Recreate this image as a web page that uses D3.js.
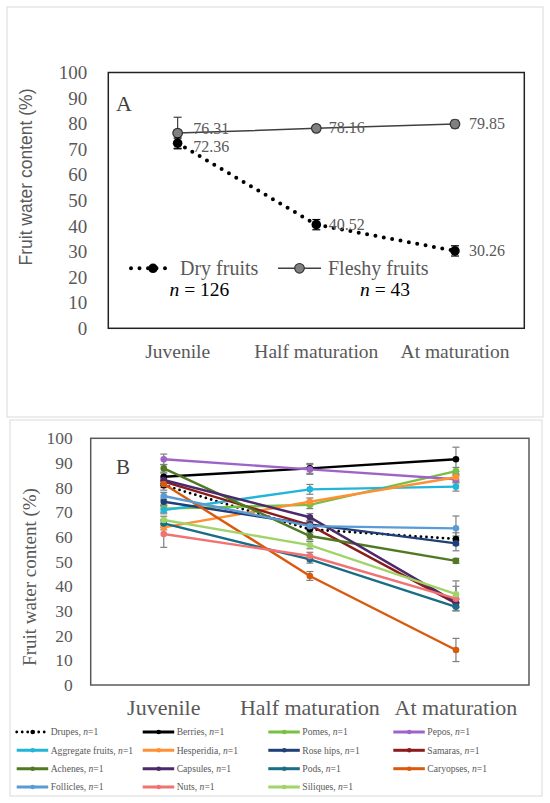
<!DOCTYPE html>
<html>
<head>
<meta charset="utf-8">
<script src="https://cdn.jsdelivr.net/npm/d3@7"></script>
<style>
  body { margin: 0; background: #fff; }
  svg { display: block; }
  svg text { font-family: "Liberation Serif", "Times New Roman", serif; }
  svg text.sans { font-family: "Liberation Sans", Arial, sans-serif; }
</style>
</head>
<body>
<div id="chart"></div>
<script>
const stages = ["Juvenile", "Half maturation", "At maturation"];
const yTicks = [0, 10, 20, 30, 40, 50, 60, 70, 80, 90, 100];

// panel A
const dryVals = [72.36, 40.52, 30.26];
const dryErr = [2, 2, 2];
const fleshyVals = [76.31, 78.16, 79.85];
const fleshyErr = [6.2, 1, 1.5];

// panel B
const typeNames = ["Drupes", "Berries", "Pomes", "Pepos",
  "Aggregate fruits", "Hesperidia", "Rose hips", "Samaras",
  "Achenes", "Capsules", "Pods", "Caryopses",
  "Follicles", "Nuts", "Siliques"];
const typeColors = ["#000000", "#000000", "#78c043", "#9e63c9",
  "#21b5d9", "#ff9036", "#1f3f76", "#8c1c1c",
  "#4f7a21", "#4a2a6a", "#196d87", "#d95a0c",
  "#5b9bd5", "#f07272", "#a1d468"];
const typeVals = [
  [81.0, 63.1, 59.2],
  [84.4, 87.8, 91.5],
  [71.5, 73.0, 86.7],
  [91.5, 87.4, 83.4],
  [70.9, 79.3, 80.4],
  [63.9, 74.3, 84.2],
  [74.3, 65.1, 57.4],
  [82.4, 64.8, 33.1],
  [87.8, 60.4, 50.3],
  [83.1, 68.0, 33.5],
  [65.5, 50.9, 31.7],
  [81.5, 44.2, 14.2],
  [76.6, 64.4, 63.5],
  [61.2, 52.3, 35.0],
  [66.9, 56.7, 36.8]
];
const typeErrs = [
  [2, 2, 2.5],
  [1.5, 2, 4.9],
  [1.5, 1.5, 1.5],
  [2.1, 2, 1.5],
  [1.5, 2, 1.8],
  [1, 1.5, 1.5],
  [1.5, 1.5, 3],
  [1.5, 1.5, 1.5],
  [1.5, 1.5, 1],
  [1.5, 1.5, 1.5],
  [1.5, 1.5, 1.5],
  [1.5, 1.8, 4.7],
  [1.5, 1.5, 5],
  [5.4, 1.5, 5],
  [1.5, 1.5, 5.4]
];

const GREY = "#595959";

let svg = d3.select("#chart").append("svg")
  .attr("width", 550)
  .attr("height", 803);

svg.append("rect").attr("width", 550).attr("height", 803).attr("fill", "#fff");

// outer frames
svg.append("rect").attr("x", 7).attr("y", 7).attr("width", 536).attr("height", 410)
  .attr("fill", "none").attr("stroke", "#d9d9d9");
svg.append("rect").attr("x", 10).attr("y", 420).attr("width", 532).attr("height", 376)
  .attr("fill", "none").attr("stroke", "#d9d9d9");

// ---------- Panel A ----------
let xA = d3.scaleBand().domain(stages).range([108.3, 524.3]);
let yA = d3.scaleLinear().domain([0, 100]).range([328.3, 72.5]);
let cxA = d => xA(d) + xA.bandwidth() / 2;

let gA = svg.append("g");

gA.append("g")
  .attr("transform", "translate(108.3,0)")
  .call(d3.axisLeft(yA).tickValues(yTicks).tickSize(0).tickPadding(21))
  .call(g => g.select(".domain").remove())
  .selectAll("text")
  .attr("font-size", 19).attr("fill", GREY);

gA.append("g")
  .attr("transform", "translate(0,328.3)")
  .call(d3.axisBottom(xA).tickSize(0).tickPadding(16))
  .call(g => g.select(".domain").remove())
  .selectAll("text")
  .attr("font-size", 19.5).attr("fill", GREY);

gA.append("rect")
  .attr("x", 108.3).attr("y", 72.5).attr("width", 416).attr("height", 255.8)
  .attr("fill", "none").attr("stroke", "#222").attr("stroke-width", 1.5);

gA.append("text")
  .attr("class", "sans")
  .attr("transform", "translate(32,177) rotate(-90)")
  .attr("text-anchor", "middle")
  .attr("font-size", 17.5).attr("fill", GREY)
  .text("Fruit water content (%)");

gA.append("text").attr("x", 116).attr("y", 110.5)
  .attr("font-size", 22).attr("fill", "#404040")
  .text("A");

function errBars(g, vals, errs, xf, yf, color, cap) {
  vals.forEach((v, i) => {
    let x = xf(stages[i]);
    let y1 = yf(v + errs[i]), y2 = yf(v - errs[i]);
    g.append("line").attr("x1", x).attr("x2", x).attr("y1", y1).attr("y2", y2)
      .attr("stroke", color).attr("stroke-width", 1.2);
    g.append("line").attr("x1", x - cap).attr("x2", x + cap).attr("y1", y1).attr("y2", y1)
      .attr("stroke", color).attr("stroke-width", 1.2);
    g.append("line").attr("x1", x - cap).attr("x2", x + cap).attr("y1", y2).attr("y2", y2)
      .attr("stroke", color).attr("stroke-width", 1.2);
  });
}

let lineA = d3.line().x((d, i) => cxA(stages[i])).y(d => yA(d));

// fleshy
errBars(gA, fleshyVals, fleshyErr, cxA, yA, "#404040", 4);
gA.append("path").datum(fleshyVals).attr("d", lineA)
  .attr("fill", "none").attr("stroke", "#404040").attr("stroke-width", 1.5);
gA.selectAll(".fm").data(fleshyVals).enter().append("circle")
  .attr("cx", (d, i) => cxA(stages[i])).attr("cy", d => yA(d)).attr("r", 4.8)
  .attr("fill", "#808080").attr("stroke", "#333").attr("stroke-width", 1.2);

// dry
errBars(gA, dryVals, dryErr, cxA, yA, "#000", 4);
gA.append("path").datum(dryVals).attr("d", lineA)
  .attr("fill", "none").attr("stroke", "#000").attr("stroke-width", 4)
  .attr("stroke-linecap", "round").attr("stroke-dasharray", "0 8.5");
gA.selectAll(".dm").data(dryVals).enter().append("circle")
  .attr("cx", (d, i) => cxA(stages[i])).attr("cy", d => yA(d)).attr("r", 4.8)
  .attr("fill", "#000");

// data labels (juvenile pair nudged apart so they don't collide)
const labOff = [15.5, 12.5, 14];
[[fleshyVals, [-4, 0, 0]], [dryVals, [3.8, 0, 0]]].forEach(([vals, nudge]) => {
  gA.selectAll(null).data(vals).enter().append("text")
    .attr("x", (d, i) => cxA(stages[i]) + labOff[i])
    .attr("y", (d, i) => yA(d) + 5 + nudge[i])
    .attr("font-size", 16).attr("fill", GREY)
    .text(d => d.toFixed(2));
});

// legend A
let lgA = gA.append("g");
lgA.append("line").attr("x1", 131).attr("x2", 173).attr("y1", 268.3).attr("y2", 268.3)
  .attr("stroke", "#000").attr("stroke-width", 4).attr("stroke-linecap", "round")
  .attr("stroke-dasharray", "0 8.5");
lgA.append("circle").attr("cx", 153).attr("cy", 268.3).attr("r", 4.8).attr("fill", "#000");
lgA.append("text").attr("x", 180).attr("y", 275)
  .attr("font-size", 20).attr("fill", GREY).text("Dry fruits");
lgA.append("line").attr("x1", 278).attr("x2", 321).attr("y1", 268.3).attr("y2", 268.3)
  .attr("stroke", "#404040").attr("stroke-width", 1.5);
lgA.append("circle").attr("cx", 299.5).attr("cy", 268.3).attr("r", 4.8)
  .attr("fill", "#808080").attr("stroke", "#333").attr("stroke-width", 1.2);
lgA.append("text").attr("x", 328).attr("y", 275)
  .attr("font-size", 20).attr("fill", GREY).text("Fleshy fruits");

[[169.5, "126"], [360, "43"]].forEach(([x, n]) => {
  let t = lgA.append("text").attr("x", x).attr("y", 295.5)
    .attr("font-size", 19.5).attr("fill", "#000");
  t.append("tspan").attr("font-style", "italic").text("n");
  t.append("tspan").text(" = " + n);
});

// ---------- Panel B ----------
let xB = d3.scaleBand().domain(stages).range([90.7, 529]);
let yB = d3.scaleLinear().domain([0, 100]).range([685, 438.3]);
let cxB = d => xB(d) + xB.bandwidth() / 2;

let gB = svg.append("g");

gB.append("g")
  .attr("transform", "translate(90.7,0)")
  .call(d3.axisLeft(yB).tickValues(yTicks).tickSize(0).tickPadding(18))
  .call(g => g.select(".domain").remove())
  .selectAll("text")
  .attr("font-size", 17.5).attr("fill", GREY);

gB.append("g")
  .attr("transform", "translate(0,685)")
  .call(d3.axisBottom(xB).tickSize(0).tickPadding(14.5))
  .call(g => g.select(".domain").remove())
  .selectAll("text")
  .attr("font-size", 22).attr("fill", GREY);

gB.append("rect")
  .attr("x", 90.7).attr("y", 438.3).attr("width", 438.3).attr("height", 246.7)
  .attr("fill", "none").attr("stroke", "#595959").attr("stroke-width", 1.5);

gB.append("text")
  .attr("transform", "translate(36,577) rotate(-90)")
  .attr("text-anchor", "middle")
  .attr("font-size", 19).attr("fill", GREY)
  .text("Fruit water content (%)");

gB.append("text").attr("x", 116).attr("y", 473.5)
  .attr("font-size", 21).attr("fill", "#404040")
  .text("B");

let lineB = d3.line().x((d, i) => cxB(stages[i])).y(d => yB(d));

typeVals.forEach((vals, k) => {
  errBars(gB, vals, typeErrs[k], cxB, yB, "#7f7f7f", 3.5);
});

typeVals.forEach((vals, k) => {
  let p = gB.append("path").datum(vals).attr("d", lineB)
    .attr("fill", "none").attr("stroke", typeColors[k]);
  if (k === 0) {
    p.attr("stroke-width", 2.8).attr("stroke-linecap", "round").attr("stroke-dasharray", "0 5.5");
  } else {
    p.attr("stroke-width", 2.4);
  }
  gB.selectAll(null).data(vals).enter().append("circle")
    .attr("cx", (d, i) => cxB(stages[i])).attr("cy", d => yB(d)).attr("r", 3.3)
    .attr("fill", typeColors[k]);
});

// legend B
const legX = [16.7, 142.7, 268.3, 393.3];
const legY = [732, 750.3, 768.7, 787];
typeNames.forEach((name, k) => {
  let x = legX[k % 4], y = legY[Math.floor(k / 4)];
  let g = gB.append("g");
  let l = g.append("line").attr("x1", x).attr("x2", x + 31.5).attr("y1", y).attr("y2", y)
    .attr("stroke", typeColors[k]);
  if (k === 0) {
    l.attr("stroke-width", 2.8).attr("stroke-linecap", "round").attr("stroke-dasharray", "0 5.5");
  } else {
    l.attr("stroke-width", 3);
  }
  g.append("circle").attr("cx", x + 16).attr("cy", y).attr("r", 2.3).attr("fill", typeColors[k]);
  let t = g.append("text").attr("x", x + 34).attr("y", y + 3.3)
    .attr("font-size", 9.6).attr("fill", GREY);
  t.append("tspan").text(name + ", ");
  t.append("tspan").attr("font-style", "italic").text("n");
  t.append("tspan").text("=1");
});
</script>
</body>
</html>
